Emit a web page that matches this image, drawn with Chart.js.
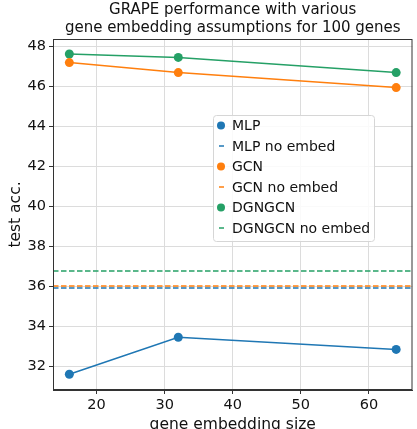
<!DOCTYPE html>
<html>
<head>
<meta charset="utf-8">
<script src="https://cdn.jsdelivr.net/npm/chart.js@4/dist/chart.umd.min.js"></script>
<style>
  html, body { margin: 0; padding: 0; background: #fff; }
  #wrap { width: 417px; height: 429px; }
</style>
</head>
<body>
<div id="wrap"><canvas id="myChart" width="417" height="429"></canvas></div>
<script>
// embedding sizes and scores
const sizes = [16, 32, 64];
const mlp = [31.59, 33.44, 32.83];
const gcn = [47.17, 46.67, 45.92];
const dgngcn = [47.6, 47.43, 46.67];
// baselines without embedding (horizontal dashed lines)
const mlpNoEmbed = 35.9;
const gcnNoEmbed = 36.0;
const dgngcnNoEmbed = 36.75;
const xTicks = [20, 30, 40, 50, 60];
const yTicks = [32, 34, 36, 38, 40, 42, 44, 46, 48];

const xMin = 13.6, xMax = 66.4;
const blue = "#1f77b4", orange = "#ff7f0e", green = "#25a066";
const font = "'DejaVu Sans', sans-serif";

function pts(ys) {
  return sizes.map((x, i) => ({ x: x, y: ys[i] }));
}
function hline(y) {
  return [{ x: xMin, y: y }, { x: xMax, y: y }];
}

const lineDs = (label, ys, c) => ({
  label: label, data: pts(ys), borderColor: c, backgroundColor: c,
  borderWidth: 1.5, pointRadius: 4.5, pointHoverRadius: 4.5, pointBorderWidth: 0,
  kind: "marker",
});
const dashDs = (label, y, c) => ({
  label: label, data: hline(y), borderColor: c, backgroundColor: c,
  borderWidth: 1.5, borderDash: [5.5, 2.5], pointRadius: 0, kind: "dash",
});

// legend drawn inside the plot area, plus the frame around the axes
const insideLegend = {
  id: "insideLegend",
  afterDraw(chart) {
    const ctx = chart.ctx;
    const a = chart.chartArea;
    ctx.save();
    ctx.strokeStyle = "#333";
    ctx.lineWidth = 1;
    ctx.strokeRect(a.left + 0.5, a.top + 0.5, a.right - a.left - 1, a.bottom - a.top - 1);

    const x0 = 213, y0 = 115, w = 161, h = 126;
    ctx.beginPath();
    ctx.roundRect(x0 + 0.5, y0 + 0.5, w, h, 3);
    ctx.fillStyle = "rgba(255,255,255,0.85)";
    ctx.fill();
    ctx.strokeStyle = "#d6d6d6";
    ctx.stroke();

    ctx.font = "14px " + font;
    ctx.textBaseline = "middle";
    chart.data.datasets.forEach((ds, i) => {
      const y = 125.5 + i * 20.5;
      ctx.fillStyle = ds.borderColor;
      ctx.strokeStyle = ds.borderColor;
      if (ds.kind === "marker") {
        ctx.beginPath();
        ctx.arc(221, y, 4, 0, Math.PI * 2);
        ctx.fill();
      } else {
        ctx.lineWidth = 1.5;
        ctx.beginPath();
        ctx.moveTo(219, y);
        ctx.lineTo(224, y);
        ctx.stroke();
      }
      ctx.fillStyle = "#111";
      ctx.fillText(ds.label, 232, y + 1);
    });
    ctx.restore();
  },
};

new Chart(document.getElementById("myChart"), {
  type: "line",
  data: {
    datasets: [
      lineDs("MLP", mlp, blue),
      dashDs("MLP no embed", mlpNoEmbed, blue),
      lineDs("GCN", gcn, orange),
      dashDs("GCN no embed", gcnNoEmbed, orange),
      lineDs("DGNGCN", dgngcn, green),
      dashDs("DGNGCN no embed", dgngcnNoEmbed, green),
    ],
  },
  options: {
    responsive: false,
    animation: false,
    events: [],
    layout: { padding: { left: 0, right: 1, top: 0, bottom: 0 } },
    scales: {
      x: {
        type: "linear",
        min: xMin,
        max: xMax,
        afterBuildTicks: (s) => { s.ticks = xTicks.map((v) => ({ value: v })); },
        afterFit: (s) => { s.height = 39; },
        ticks: { color: "#111", font: { family: font, size: 14.5 }, padding: 3 },
        grid: { color: "#dcdcdc", tickColor: "#333", tickLength: 4 },
        border: { color: "#333" },
        title: {
          display: true, text: "gene embedding size", color: "#111",
          font: { family: font, size: 15.5 }, padding: { top: 0, bottom: -5 },
        },
      },
      y: {
        min: 30.8,
        max: 48.35,
        afterBuildTicks: (s) => { s.ticks = yTicks.map((v) => ({ value: v })); },
        afterFit: (s) => { s.width = 53; },
        ticks: { color: "#111", font: { family: font, size: 14.5 }, padding: 3 },
        grid: { color: "#dcdcdc", tickColor: "#333", tickLength: 4 },
        border: { color: "#333" },
        title: {
          display: true, text: "test acc.", color: "#111",
          font: { family: font, size: 15.5 }, padding: { top: 7, bottom: 2 },
        },
      },
    },
    plugins: {
      legend: { display: false },
      tooltip: { enabled: false },
      title: {
        display: true,
        fullSize: false,
        text: ["GRAPE performance with various", "gene embedding assumptions for 100 genes"],
        color: "#111",
        font: { family: font, size: 15, weight: "normal" },
        padding: { top: 1, bottom: 2 },
        lineHeight: 1.15,
      },
    },
  },
  plugins: [insideLegend],
});
</script>
</body>
</html>
